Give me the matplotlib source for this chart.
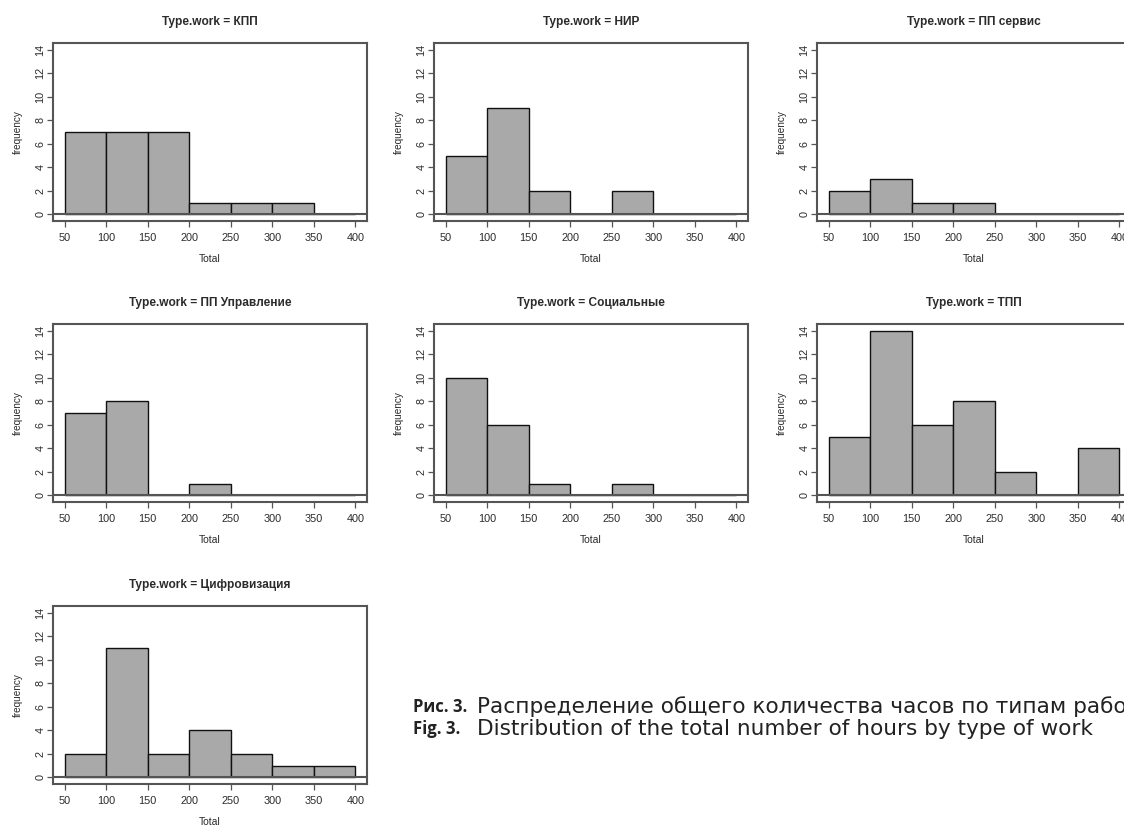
import numpy as np
import matplotlib.pyplot as plt

plt.rcParams['font.family'] = ['Liberation Sans', 'DejaVu Sans']

edges = [50, 100, 150, 200, 250, 300, 350, 400]

work_types = ['КПП', 'НИР', 'ПП сервис', 'ПП Управление', 'Социальные', 'ТПП', 'Цифровизация']
kpp = [7, 7, 7, 1, 1, 1, 0]
nir = [5, 9, 2, 0, 2, 0, 0]
pp_service = [2, 3, 1, 1, 0, 0, 0]
pp_control = [7, 8, 0, 1, 0, 0, 0]
social = [10, 6, 1, 0, 1, 0, 0]
tpp = [5, 14, 6, 8, 2, 0, 4]
digital = [2, 11, 2, 4, 2, 1, 1]
counts = [kpp, nir, pp_service, pp_control, social, tpp, digital]

W, H = 1124, 826
box_left = [53, 434, 817]
box_top = [43, 324, 606]
box_w, box_h = 314, 178

fig = plt.figure(figsize=(W / 100, H / 100), dpi=100)

frame_col = '#555555'
text_col = '#2b2b2b'

for i, (name, c) in enumerate(zip(work_types, counts)):
    row, col = divmod(i, 3)
    x0 = box_left[col] / W
    y0 = 1 - (box_top[row] + box_h) / H
    ax = fig.add_axes([x0, y0, box_w / W, box_h / H])

    lefts = np.array(edges[:-1])
    ax.bar(lefts, c, width=50, align='edge', color='#a9a9a9',
           edgecolor='#111111', linewidth=1.0, zorder=2)
    ax.axhline(0, color='#555555', linewidth=1.5, zorder=3)

    ax.set_xlim(36, 414)
    ax.set_ylim(-0.56, 14.56)
    ax.set_xticks(edges)
    ax.set_yticks(range(0, 15, 2))
    ax.tick_params(axis='both', direction='out', length=4, width=0.9,
                   color=frame_col, labelsize=7.8, labelcolor=text_col)
    ax.tick_params(axis='x', pad=4.5)
    ax.tick_params(axis='y', pad=1.5)
    for lab in ax.get_yticklabels():
        lab.set_rotation(90)
        lab.set_va('center')
    for sp in ax.spines.values():
        sp.set_color(frame_col)
        sp.set_linewidth(1.5)

    ax.set_title(f'Type.work = {name}', fontsize=8.6, fontweight='bold',
                 color=text_col, pad=13)
    ax.set_xlabel('Total', fontsize=7.5, color=text_col, labelpad=8)
    ax.set_ylabel('frequency', fontsize=7.2, color=text_col, labelpad=9)

# figure caption
cap_col = '#222222'
fig.text(413 / W, 1 - 707 / H, 'Рис. 3.', family=['Open Sans', 'DejaVu Sans'],
         fontsize=12, fontweight='bold', va='center', color=cap_col)
fig.text(477 / W, 1 - 707 / H, 'Распределение общего количества часов по типам работ',
         family=['DejaVu Sans'], fontsize=15.6, va='center', color=cap_col)
fig.text(413 / W, 1 - 729 / H, 'Fig. 3.', family=['Open Sans', 'DejaVu Sans'],
         fontsize=12, fontweight='bold', va='center', color=cap_col)
fig.text(477 / W, 1 - 729 / H, 'Distribution of the total number of hours by type of work',
         family=['DejaVu Sans'], fontsize=15.6, va='center', color=cap_col)

fig.savefig('out.png', dpi=100)
